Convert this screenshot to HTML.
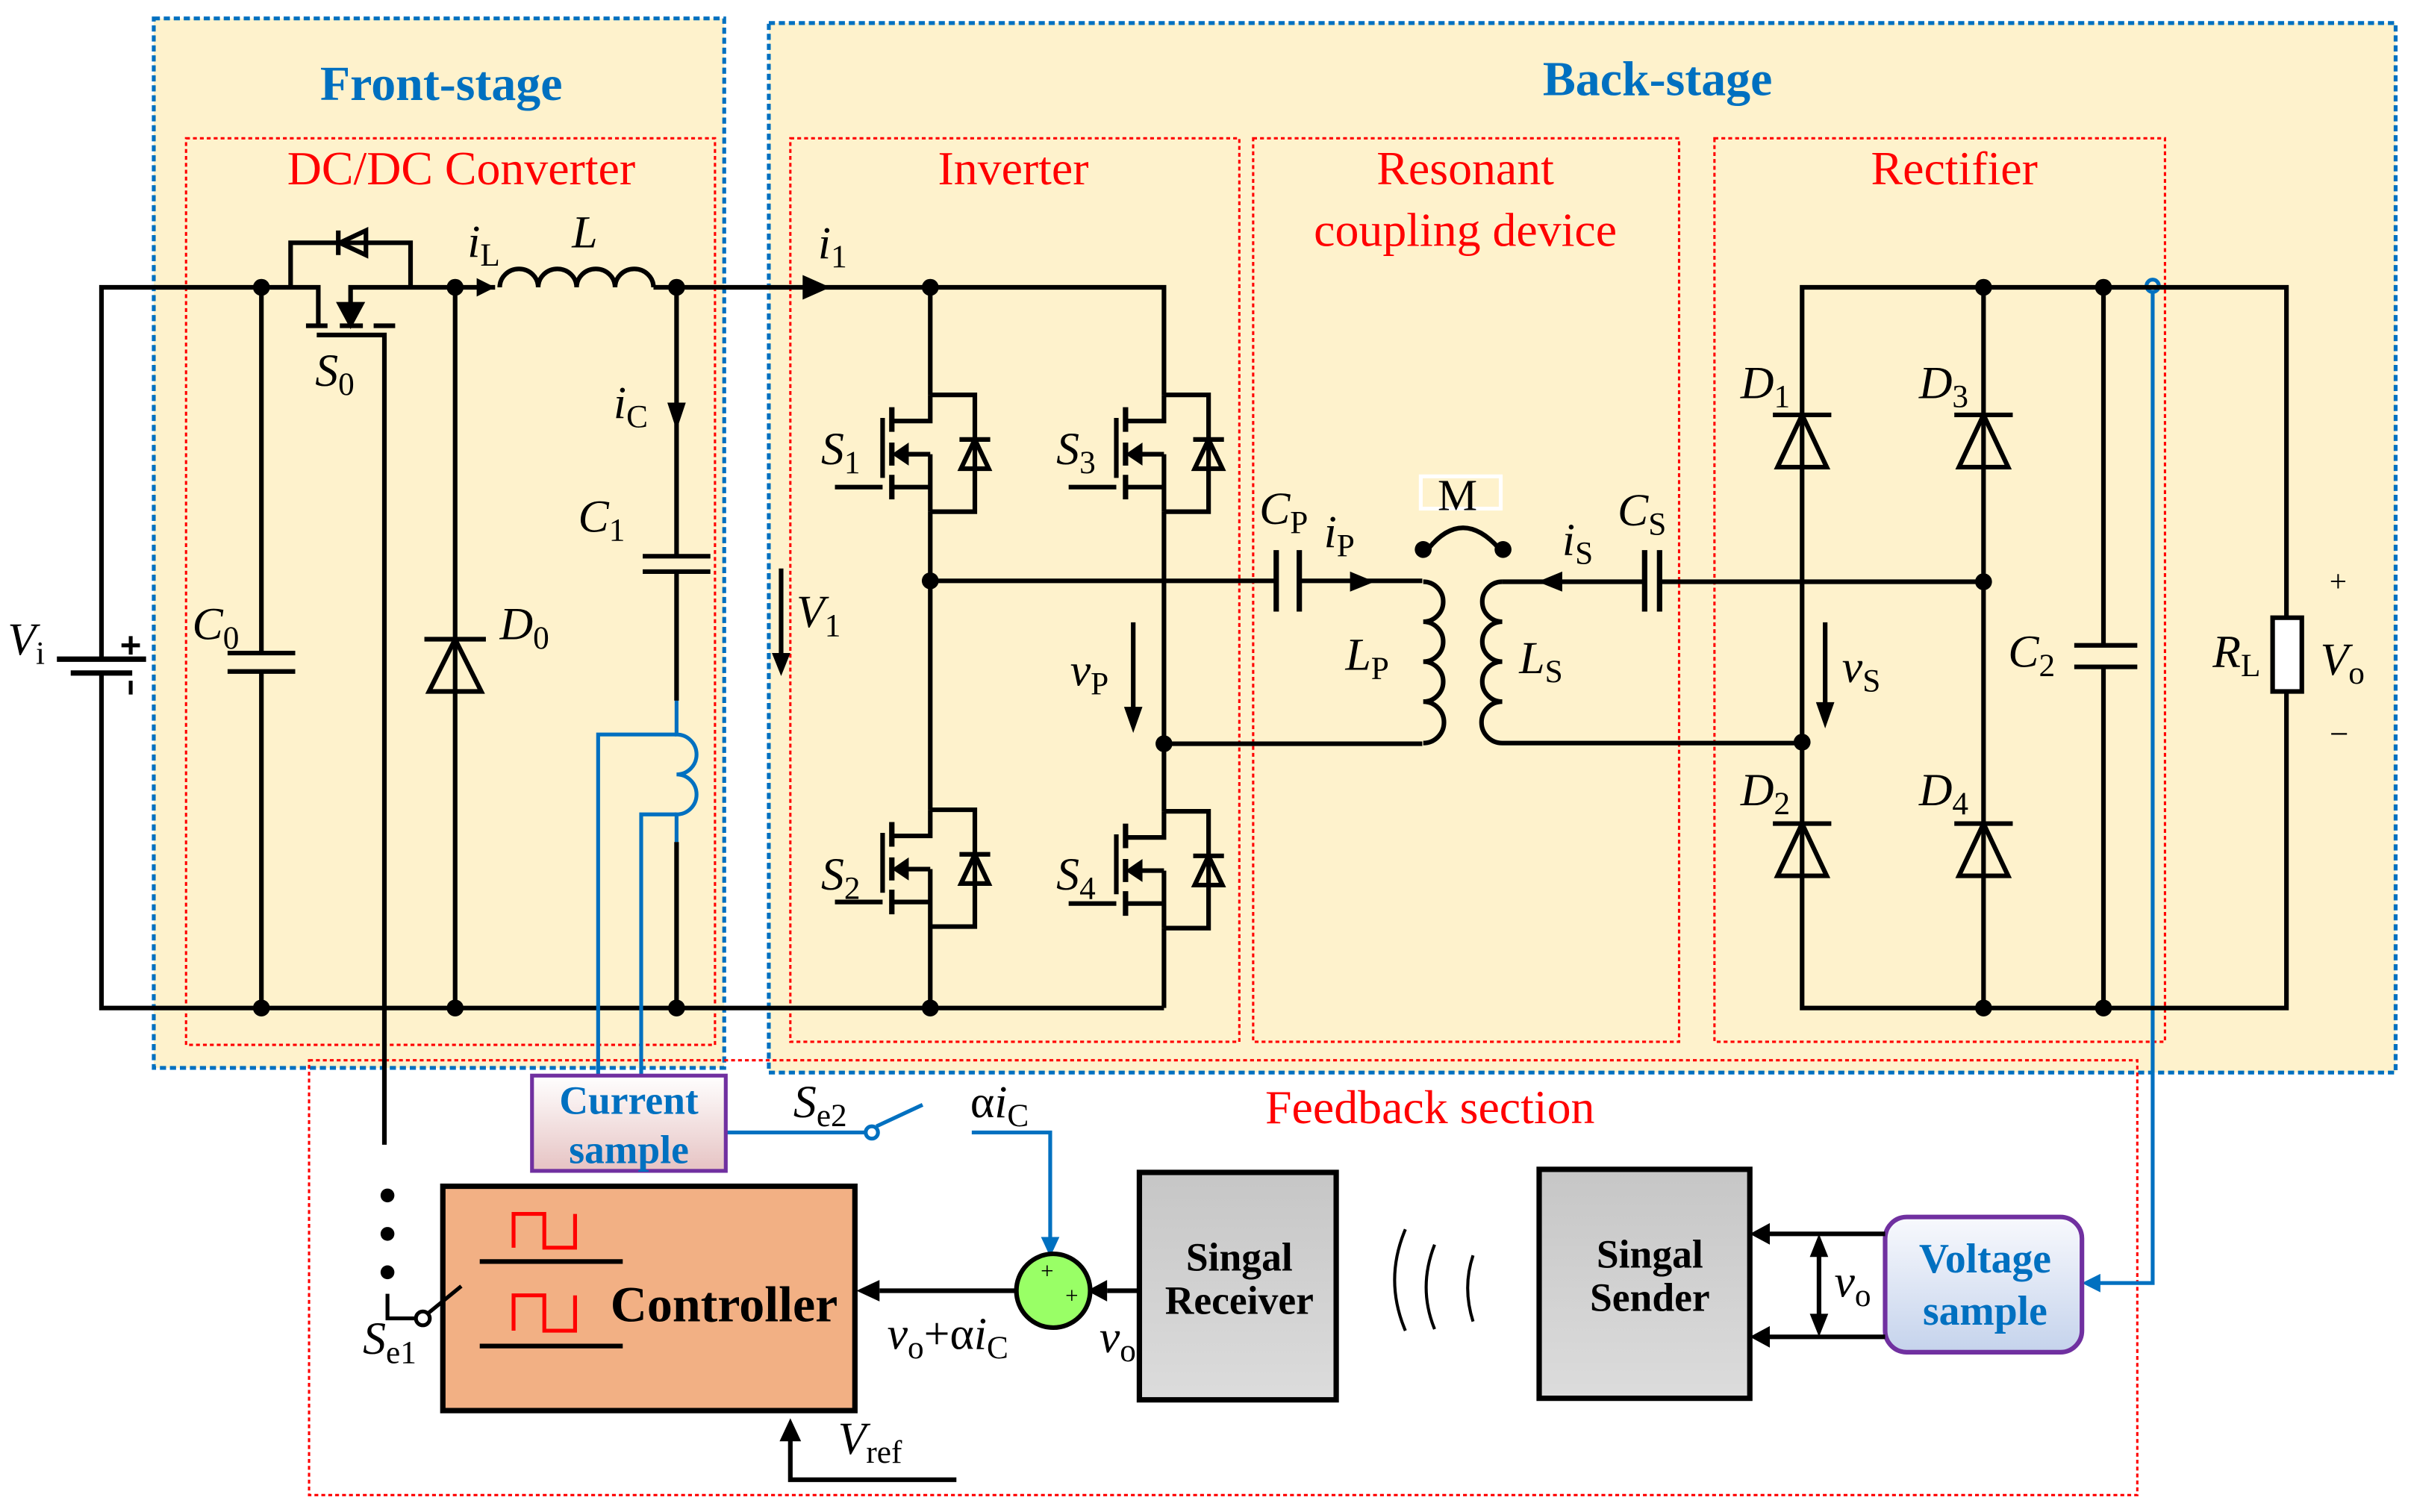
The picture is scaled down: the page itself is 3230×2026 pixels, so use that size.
<!DOCTYPE html>
<html><head><meta charset="utf-8"><style>
html,body{margin:0;padding:0;background:#fff}
svg{display:block}
text{font-family:"Liberation Serif",serif}
.v{font-style:italic}
</style></head><body>
<svg width="3230" height="2026" viewBox="0 0 1568 984" preserveAspectRatio="none" xmlns="http://www.w3.org/2000/svg">
<defs>
<linearGradient id="gc" x1="0" y1="0" x2="0" y2="1"><stop offset="0" stop-color="#ffffff"/><stop offset="1" stop-color="#e6c3c3"/></linearGradient>
<linearGradient id="gv" x1="0" y1="0" x2="0" y2="1"><stop offset="0" stop-color="#f8f9fd"/><stop offset="1" stop-color="#c5d3ec"/></linearGradient>
<linearGradient id="gg" x1="0" y1="0" x2="0" y2="1"><stop offset="0" stop-color="#c6c6c6"/><stop offset="1" stop-color="#dcdcdc"/></linearGradient>
<g id="mos" fill="none" stroke="#000" stroke-width="3">
<path d="M0,0 V17 H-25 M-25,60 H0 V76 M0,38.6 V60 M0,38.6 H-16"/>
<path d="M-25,8 V24 M-25,31 V46 M-25,52 V68" stroke-width="3.5"/>
<path d="M-31,15 V54 M-62,60 H-31"/>
<polygon points="-25,38.6 -14,31 -14,46" fill="#000" stroke="none"/>
<path d="M0,0 H29 V76 H0"/>
<polygon points="29,29 20,48 38,48" />
<path d="M19,29 H39"/>
</g>
<g id="dio" fill="none" stroke="#000" stroke-width="3">
<path d="M-19,0 H19"/><polygon points="0,0 -16,34 16,34"/>
</g>
</defs>

<!-- stage boxes -->
<rect x="100" y="12" width="371" height="683" fill="#fef2cc" stroke="#0070c0" stroke-width="2.5" stroke-dasharray="4,2.5"/>
<rect x="500" y="15" width="1058" height="683" fill="#fef2cc" stroke="#0070c0" stroke-width="2.5" stroke-dasharray="4,2.5"/>
<g fill="none" stroke="#ff0000" stroke-width="1.5" stroke-dasharray="2.5,2">
<rect x="121" y="90" width="344" height="590"/>
<rect x="514" y="90" width="292" height="588"/>
<rect x="815" y="90" width="277" height="588"/>
<rect x="1115" y="90" width="293" height="588"/>
<rect x="201" y="690" width="1189" height="283"/>
</g>
<text x="287" y="65" font-size="32" font-weight="bold" fill="#0070c0" text-anchor="middle">Front-stage</text>
<text x="1078" y="62" font-size="32" font-weight="bold" fill="#0070c0" text-anchor="middle">Back-stage</text>
<g font-size="31" fill="#ff0000" text-anchor="middle">
<text x="300" y="120">DC/DC Converter</text>
<text x="659" y="120">Inverter</text>
<text x="953" y="120">Resonant</text>
<text x="953" y="160">coupling device</text>
<text x="1271" y="120">Rectifier</text>
<text x="930" y="731">Feedback section</text>
</g>

<g fill="none" stroke="#000" stroke-width="3">
<path d="M66,429 V187 H207 V212"/>
<path d="M66,438 V656 H757"/>
<path d="M37,429 H95 M46,438 H86" stroke-width="3.5"/>
<path d="M85,414 V426 M79,420 H91 M85,443 V452" stroke-width="2.5"/>
<path d="M189,187 V158 H267 V187"/>
<path d="M220,150 V166"/><polygon points="238,150 238,166 221,158"/>
<path d="M267,187 H228 V200 M199,212 H213 M221,212 H236 M243,212 H257" />
<polygon points="221,198 235,198 228,211" fill="#000"/>
<path d="M206,218 H250 V745"/>
<path d="M267,187 H322 M425,187 H605 H757 V257"/>
<path d="M325,187 a12.5,12 0 0 1 25,0 a12.5,12 0 0 1 25,0 a12.5,12 0 0 1 25,0 a12.5,12 0 0 1 25,0"/>
<path d="M170,187 V425 M148,425 H192 M148,437 H192 M170,437 V656"/>
<path d="M296,187 V656"/>
<path d="M276,416 H316"/><polygon points="296,416 279,450 313,450"/>
<path d="M440,187 V362 M418,362 H462 M418,372 H462 M440,372 V456"/>
</g>
<polygon points="310,181 322,187 310,193"/>
<polygon points="434,262 446,262 440,280"/>
<polygon points="522,179 540,187 522,195"/>
<g fill="none" stroke="#0070c0" stroke-width="2.5">
<path d="M440,456 V478 a13,13 0 0 1 0,26 a13,13 0 0 1 0,26 V548"/>
<path d="M440,478 H389 V700 M417,700 V530 H440"/>
<path d="M472,737 H563 M570,733 L600,719 M632,737 H683 V808"/>
<circle cx="567" cy="737" r="4"/>
<path d="M1400,190 V835 H1362"/>
<circle cx="1400" cy="186" r="4"/>
</g>
<path d="M440,548 V656" stroke="#000" stroke-width="3"/>
<polygon points="677,805 689,805 683,818" fill="#0070c0"/>
<polygon points="1366,829 1366,841 1354,835" fill="#0070c0"/>

<use href="#mos" x="605" y="257"/>
<use href="#mos" x="605" y="527"/>
<use href="#mos" x="757" y="257"/>
<use href="#mos" x="757" y="528"/>
<g fill="none" stroke="#000" stroke-width="3">
<path d="M605,187 V257 M605,333 V527 M605,603 V656"/>
<path d="M757,333 V528 M757,604 V656"/>
<path d="M605,378 H830 M845,378 H925"/>
<path d="M830,358 V398 M845,358 V398" stroke-width="3.5"/>
<path d="M757,484 H925"/>
<path d="M925.6,378.6 a13,13 0 0 1 0,26 a13,13 0 0 1 0,26 a13,13 0 0 1 0,26 a13,13 0 0 1 0,27"/>
<path d="M977,378.6 a13,13 0 0 0 0,26 a13,13 0 0 0 0,26 a13,13 0 0 0 0,26 a13,13 0 0 0 0,27 H1172"/>
<path d="M977,378.6 H1069 M1079,378.6 H1290"/>
<path d="M1069.6,358 V398 M1079.3,358 V398" stroke-width="3.5"/>
<path d="M929,357 Q951,330 975,357"/>
<path d="M508,370 V428 M737,405 V463 M1187,405 V460"/>
<path d="M1172,483 V656 H1487 V450 M1487,402 V187 H1172 V483"/>
<path d="M1290,187 V656 M1368,187 V420 M1368,434 V656"/>
<path d="M1349,420 H1390 M1349,434 H1390"/>
<rect x="1478" y="402" width="19" height="48" fill="#fff"/>
</g>
<rect x="924" y="310" width="52" height="21" fill="none" stroke="#fff" stroke-width="2.5"/>
<polygon points="502,425 514,425 508,440"/>
<polygon points="731,460 743,460 737,477"/>
<polygon points="1181,457 1193,457 1187,474"/>
<polygon points="878,372 894,378.6 878,385"/>
<polygon points="1016,372 1000,378.6 1016,385"/>
<use href="#dio" x="1172" y="270"/>
<use href="#dio" x="1290" y="270"/>
<use href="#dio" x="1172" y="536"/>
<use href="#dio" x="1290" y="536"/>
<g fill="#000">
<circle cx="170" cy="187" r="5.5"/><circle cx="296" cy="187" r="5.5"/><circle cx="440" cy="187" r="5.5"/><circle cx="605" cy="187" r="5.5"/>
<circle cx="170" cy="656" r="5.5"/><circle cx="296" cy="656" r="5.5"/><circle cx="440" cy="656" r="5.5"/><circle cx="605" cy="656" r="5.5"/>
<circle cx="605" cy="378" r="5.5"/><circle cx="757" cy="484" r="5.5"/>
<circle cx="925.6" cy="357.6" r="5.5"/><circle cx="977.5" cy="357.6" r="5.5"/>
<circle cx="1290" cy="378.6" r="5.5"/><circle cx="1172" cy="483" r="5.5"/>
<circle cx="1290" cy="187" r="5.5"/><circle cx="1368" cy="187" r="5.5"/>
<circle cx="1290" cy="656" r="5.5"/><circle cx="1368" cy="656" r="5.5"/>
<circle cx="252" cy="778" r="4.5"/><circle cx="252" cy="803" r="4.5"/><circle cx="252" cy="828" r="4.5"/>
</g>

<g font-size="30" fill="#000">
<text x="5" y="426"><tspan class="v">V</tspan><tspan font-size="21" dy="6">i</tspan></text>
<text x="125" y="416"><tspan class="v">C</tspan><tspan font-size="21" dy="6">0</tspan></text>
<text x="205" y="251"><tspan class="v">S</tspan><tspan font-size="21" dy="6">0</tspan></text>
<text x="304" y="167"><tspan class="v">i</tspan><tspan font-size="21" dy="6">L</tspan></text>
<text x="372" y="161" class="v">L</text>
<text x="399" y="272"><tspan class="v">i</tspan><tspan font-size="21" dy="6">C</tspan></text>
<text x="376" y="346"><tspan class="v">C</tspan><tspan font-size="21" dy="6">1</tspan></text>
<text x="325" y="416"><tspan class="v">D</tspan><tspan font-size="21" dy="6">0</tspan></text>
<text x="532" y="168"><tspan class="v">i</tspan><tspan font-size="21" dy="6">1</tspan></text>
<text x="534" y="302"><tspan class="v">S</tspan><tspan font-size="21" dy="6">1</tspan></text>
<text x="687" y="302"><tspan class="v">S</tspan><tspan font-size="21" dy="6">3</tspan></text>
<text x="534" y="579"><tspan class="v">S</tspan><tspan font-size="21" dy="6">2</tspan></text>
<text x="687" y="579"><tspan class="v">S</tspan><tspan font-size="21" dy="6">4</tspan></text>
<text x="518" y="408"><tspan class="v">V</tspan><tspan font-size="21" dy="6">1</tspan></text>
<text x="696" y="446"><tspan class="v">v</tspan><tspan font-size="21" dy="6">P</tspan></text>
<text x="819" y="341"><tspan class="v">C</tspan><tspan font-size="21" dy="6">P</tspan></text>
<text x="861" y="356"><tspan class="v">i</tspan><tspan font-size="21" dy="6">P</tspan></text>
<text x="875" y="436"><tspan class="v">L</tspan><tspan font-size="21" dy="6">P</tspan></text>
<text x="935" y="332" font-size="29">M</text>
<text x="988" y="438"><tspan class="v">L</tspan><tspan font-size="21" dy="6">S</tspan></text>
<text x="1016" y="361"><tspan class="v">i</tspan><tspan font-size="21" dy="6">S</tspan></text>
<text x="1052" y="342"><tspan class="v">C</tspan><tspan font-size="21" dy="6">S</tspan></text>
<text x="1132" y="259"><tspan class="v">D</tspan><tspan font-size="21" dy="6">1</tspan></text>
<text x="1248" y="259"><tspan class="v">D</tspan><tspan font-size="21" dy="6">3</tspan></text>
<text x="1132" y="524"><tspan class="v">D</tspan><tspan font-size="21" dy="6">2</tspan></text>
<text x="1248" y="524"><tspan class="v">D</tspan><tspan font-size="21" dy="6">4</tspan></text>
<text x="1198" y="444"><tspan class="v">v</tspan><tspan font-size="21" dy="6">S</tspan></text>
<text x="1306" y="434"><tspan class="v">C</tspan><tspan font-size="21" dy="6">2</tspan></text>
<text x="1439" y="434"><tspan class="v">R</tspan><tspan font-size="21" dy="6">L</tspan></text>
<text x="1509" y="439"><tspan class="v">V</tspan><tspan font-size="21" dy="6">o</tspan></text>
<text x="1515" y="385" font-size="20">+</text>
<text x="1515" y="485" font-size="22">−</text>
</g>

<rect x="346" y="700" width="126" height="62" fill="url(#gc)" stroke="#7030a0" stroke-width="2.5"/>
<g font-size="26" font-weight="bold" fill="#0070c0" text-anchor="middle">
<text x="409" y="725">Current</text><text x="409" y="757">sample</text>
</g>
<rect x="1226" y="792" width="128" height="88" rx="14" fill="url(#gv)" stroke="#7030a0" stroke-width="3"/>
<g font-size="27" font-weight="bold" fill="#0070c0" text-anchor="middle">
<text x="1291" y="828">Voltage</text><text x="1291" y="862">sample</text>
</g>
<rect x="288" y="772" width="268" height="146" fill="#f2b084" stroke="#000" stroke-width="3.5"/>
<g fill="none" stroke="#ff0000" stroke-width="2.5">
<path d="M334,812 V790 H354 V812 H374 V790"/>
<path d="M334,866 V843 H354 V866 H374 V843"/>
</g>
<path d="M312,821 H405 M312,876 H405" stroke="#000" stroke-width="3"/>
<text x="397" y="860" font-size="33" font-weight="bold">Controller</text>
<g fill="none" stroke="#000" stroke-width="2.5">
<path d="M252,842 V858 H270"/><circle cx="275" cy="858" r="4.5"/><path d="M278,855 L300,837"/>
<path d="M660,840 H572" stroke-width="3"/>
<path d="M741,840 H720" stroke-width="3"/>
<path d="M622,963 H514 V935" stroke-width="3"/>
<path d="M1226,803 H1150 M1226,870 H1150 M1183,815 V858" stroke-width="3"/>
<path d="M914,800 Q900,833 914,866 M933,810 Q922,838 933,865 M958,817 Q951,838 958,860" stroke-width="2"/>
</g>
<polygon points="557,840 572,833 572,847"/>
<polygon points="707,840 720,833 720,847"/>
<polygon points="514,923 507,938 521,938"/>
<polygon points="1138,803 1151,796 1151,810"/>
<polygon points="1138,870 1151,863 1151,877"/>
<polygon points="1183,803 1177,818 1189,818"/>
<polygon points="1183,870 1177,855 1189,855"/>
<circle cx="685" cy="840" r="24" fill="#99ff66" stroke="#000" stroke-width="3"/>
<text x="681" y="832" font-size="15" text-anchor="middle">+</text>
<text x="697" y="848" font-size="15" text-anchor="middle">+</text>
<rect x="741" y="763" width="128" height="148" fill="url(#gg)" stroke="#000" stroke-width="3.5"/>
<rect x="1001" y="761" width="137" height="149" fill="url(#gg)" stroke="#000" stroke-width="3.5"/>
<g font-size="26" font-weight="bold" text-anchor="middle">
<text x="806" y="827">Singal</text><text x="806" y="855">Receiver</text>
<text x="1073" y="825">Singal</text><text x="1073" y="853">Sender</text>
</g>
<g font-size="30" fill="#000">
<text x="516" y="727"><tspan class="v">S</tspan><tspan font-size="21" dy="6">e2</tspan></text>
<text x="631" y="727">α<tspan class="v">i</tspan><tspan font-size="21" dy="6">C</tspan></text>
<text x="236" y="881"><tspan class="v">S</tspan><tspan font-size="21" dy="6">e1</tspan></text>
<text x="577" y="878"><tspan class="v">v</tspan><tspan font-size="21" dy="6">o</tspan><tspan dy="-6">+α</tspan><tspan class="v">i</tspan><tspan font-size="21" dy="6">C</tspan></text>
<text x="715" y="880"><tspan class="v">v</tspan><tspan font-size="21" dy="6">o</tspan></text>
<text x="1193" y="844"><tspan class="v">v</tspan><tspan font-size="21" dy="6">o</tspan></text>
<text x="545" y="946"><tspan class="v">V</tspan><tspan font-size="21" dy="6">ref</tspan></text>
</g>
</svg>
</body></html>
